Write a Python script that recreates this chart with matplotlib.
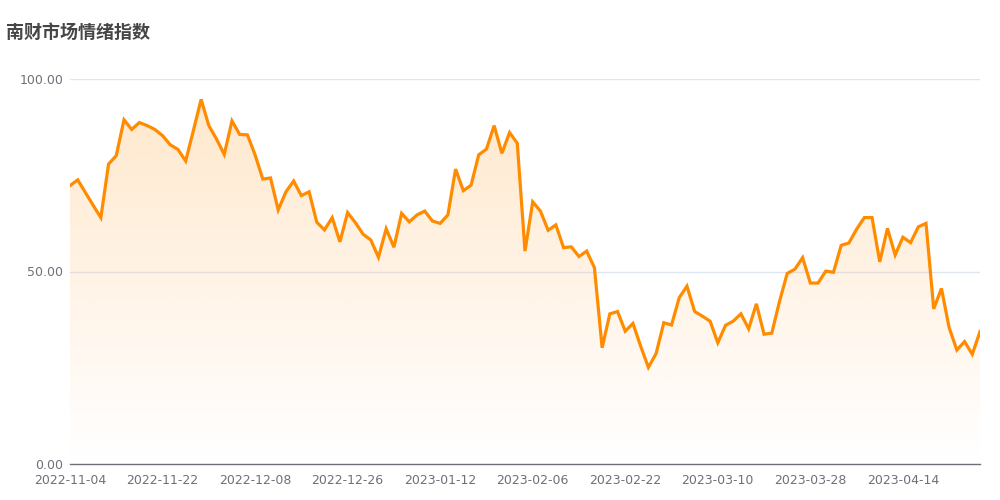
import numpy as np
import pandas as pd
import matplotlib
matplotlib.use("Agg")
import matplotlib.pyplot as plt
from matplotlib.colors import LinearSegmentedColormap

plt.rcParams['font.family'] = ['DejaVu Sans', 'Noto Sans CJK SC']

title = "南财市场情绪指数"
holidays = ["2023-01-02", "2023-01-23", "2023-01-24", "2023-01-25",
            "2023-01-26", "2023-01-27", "2023-04-05"]
dates = [d.strftime("%Y-%m-%d") for d in pd.bdate_range("2022-11-04", "2023-04-28")
         if d.strftime("%Y-%m-%d") not in holidays]

values = [72.3, 73.8, 70.5, 67.2, 64.0, 77.9, 80.1, 89.4, 86.9, 88.7,
          87.9, 86.9, 85.3, 82.9, 81.7, 78.7, 86.6, 94.7, 87.9, 84.4,
          80.4, 89.1, 85.6, 85.5, 80.3, 74.0, 74.3, 66.0, 70.7, 73.5,
          69.7, 70.7, 62.8, 60.8, 64.0, 57.7, 65.3, 62.7, 59.7, 58.2,
          53.7, 61.1, 56.3, 65.1, 62.9, 64.7, 65.7, 63.1, 62.5, 64.7,
          76.6, 71.0, 72.4, 80.3, 81.8, 87.9, 80.7, 86.1, 83.3, 55.3,
          68.1, 65.7, 60.7, 62.1, 56.2, 56.4, 53.9, 55.3, 51.0, 30.2,
          39.0, 39.6, 34.5, 36.5, 30.6, 25.1, 28.7, 36.7, 36.1, 43.2,
          46.2, 39.6, 38.4, 37.1, 31.5, 36.0, 37.1, 39.0, 35.1, 41.6,
          33.7, 34.0, 42.2, 49.5, 50.6, 53.6, 47.0, 47.0, 50.1, 49.8,
          56.8, 57.4, 61.0, 64.0, 64.0, 52.5, 61.2, 54.3, 58.9, 57.5,
          61.6, 62.5, 40.3, 45.6, 35.4, 29.6, 31.8, 28.5, 34.4]

yticks = [0, 50, 100]
ytick_labels = ["0.00", "50.00", "100.00"]

n = len(values)
x = np.arange(n)
vals = np.array(values)

fig = plt.figure(figsize=(10, 5), dpi=100)
ax = fig.add_axes([0.070, 0.072, 0.910, 0.770])
ax.set_xlim(0, n - 1)
ax.set_ylim(0, 100)

# gradient fill
top = vals.max()
cmap = LinearSegmentedColormap.from_list(
    "g", [(1, 140/255, 0, 0.0), (1, 140/255, 0, 0.2)])
grad = np.linspace(0, 1, 256).reshape(-1, 1)
poly = ax.fill_between(x, vals, 0, color='none', lw=0)
img = ax.imshow(grad, cmap=cmap, aspect='auto', origin='lower',
                extent=[0, n - 1, 0, top], zorder=1)
path = poly.get_paths()[0]
img.set_clip_path(path, transform=ax.transData)

ax.plot(x, vals, color='#FF8C00', lw=2.3, zorder=3, solid_joinstyle='miter')

# grid
for yv in yticks[1:]:
    ax.axhline(yv, color='#E0E6F1', lw=1, zorder=0)

for s in ['top', 'right', 'left']:
    ax.spines[s].set_visible(False)
ax.spines['bottom'].set_color('#6E7079')
ax.spines['bottom'].set_linewidth(1)

ax.set_yticks(yticks)
ax.set_yticklabels(ytick_labels)
tick_idx = list(range(0, n, 12))
ax.set_xticks(tick_idx)
ax.set_xticklabels([dates[i] for i in tick_idx])
ax.tick_params(axis='both', length=0, colors='#6E7079', labelsize=9)
ax.tick_params(axis='y', pad=5)
ax.tick_params(axis='x', pad=7)

fig.text(0.006, 0.936, title, fontsize=13, fontweight='bold', color='#464646',
         family=['Noto Sans CJK SC', 'DejaVu Sans'], va='center', ha='left')

fig.savefig("out.png", dpi=100)
